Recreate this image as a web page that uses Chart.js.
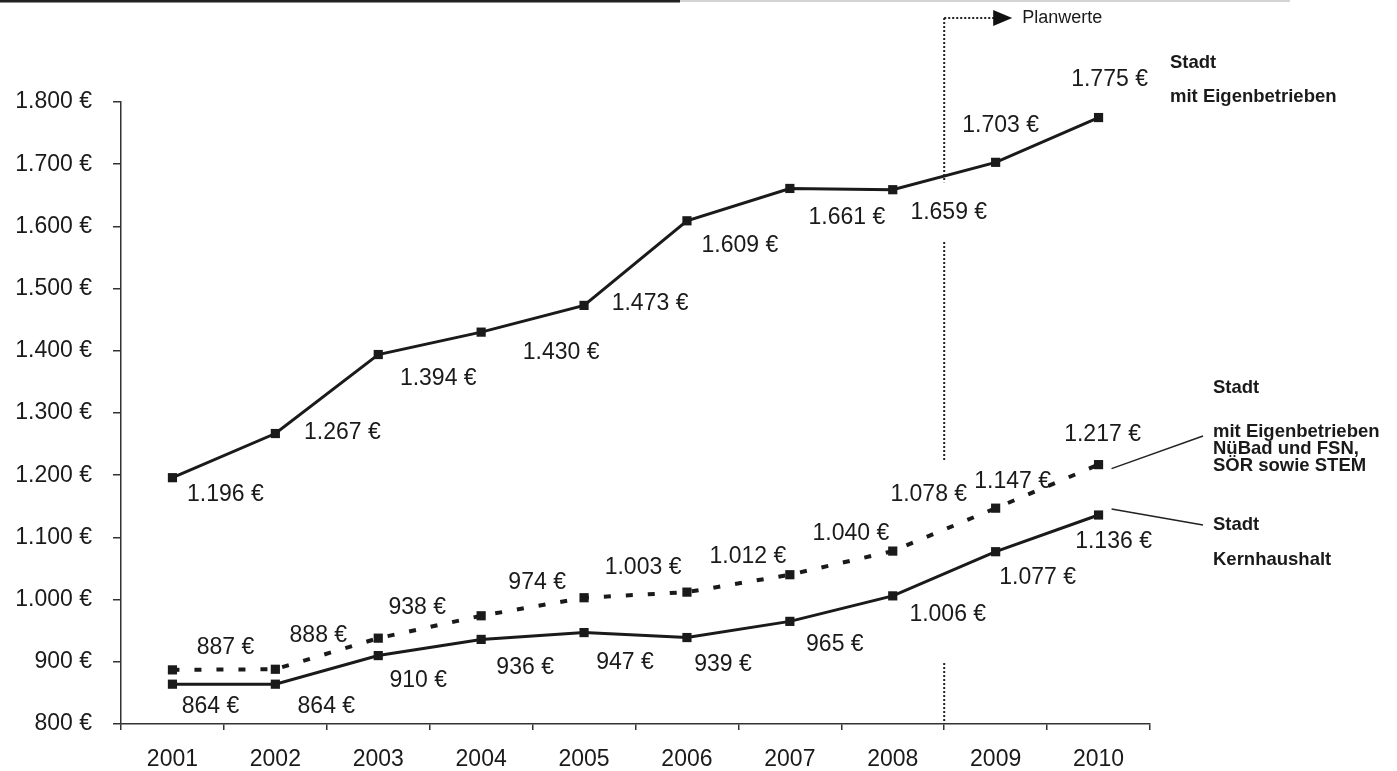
<!DOCTYPE html>
<html>
<head>
<meta charset="utf-8">
<script src="https://cdn.jsdelivr.net/npm/chart.js@4"></script>
<style>
  body { margin: 0; background: #fff; }
  #wrap { width: 1397px; height: 771px; position: relative; }
</style>
</head>
<body>
<div id="wrap"><canvas id="chart"></canvas></div>
<script>
// Daten (Euro je Einwohner)
const jahre = ['2001', '2002', '2003', '2004', '2005', '2006', '2007', '2008', '2009', '2010'];
const stadtMitEigenbetrieben = [1196, 1267, 1394, 1430, 1473, 1609, 1661, 1659, 1703, 1775];
const stadtMitNueBadFsnSoerStem = [887, 888, 938, 974, 1003, 1012, 1040, 1078, 1147, 1217];
const stadtKernhaushalt = [864, 864, 910, 936, 947, 939, 965, 1006, 1077, 1136];
const yMin = 800;
const yMax = 1800;
const yStep = 100;

// Versatz der Wertbeschriftungen (Pixel, relativ zum Punkt)
const labelOffsets = [
    [[53, 17], [67, -1], [60, 24], [80, 21], [66, -2], [53, 25], [57, 29], [56, 23], [5, -37], [11, -38]],
    [[53, -22], [43, -34], [39, -31], [56, -33], [59, -30], [61, -35], [61, -41], [36, -56], [17, -27], [4, -30]],
    [[38, 22], [51, 22], [40, 25], [44, 28], [41, 30], [36, 27], [45, 23], [55, 19], [42, 26], [15, 27]]
];

const schrift = '"Liberation Sans", Arial, sans-serif';
const ink = '#1a1a1a';

function euro(v) {
    return String(v).replace(/\B(?=(\d{3})+(?!\d))/g, '.') + ' €';
}

// Wertbeschriftungen an den Punkten
const wertePlugin = {
    id: 'werte',
    afterDatasetsDraw(chart) {
        const ctx = chart.ctx;
        ctx.save();
        ctx.font = '23px ' + schrift;
        ctx.fillStyle = ink;
        ctx.textAlign = 'center';
        ctx.textBaseline = 'middle';
        chart.data.datasets.forEach((ds, di) => {
            const meta = chart.getDatasetMeta(di);
            meta.data.forEach((pt, i) => {
                const off = labelOffsets[di][i];
                ctx.fillText(euro(ds.data[i]), pt.x + off[0], pt.y + off[1]);
            });
        });
        ctx.restore();
    }
};

// Planwerte-Markierung, Beschriftungen rechts, Scanrand
const notizPlugin = {
    id: 'notiz',
    afterDraw(chart) {
        const ctx = chart.ctx;
        const x = chart.scales.x;
        const y = chart.scales.y;
        const area = chart.chartArea;
        ctx.save();

        // Rand oben
        ctx.strokeStyle = '#222';
        ctx.lineWidth = 3;
        ctx.beginPath(); ctx.moveTo(0, 1); ctx.lineTo(680, 1); ctx.stroke();
        ctx.strokeStyle = '#aaa';
        ctx.lineWidth = 1;
        ctx.beginPath(); ctx.moveTo(680, 1); ctx.lineTo(1290, 1); ctx.stroke();

        // Trennlinie zwischen Ist- und Planwerten
        const px = (x.getPixelForValue(7) + x.getPixelForValue(8)) / 2;
        const topY = area.top - 84;
        ctx.strokeStyle = '#222';
        ctx.lineWidth = 2;
        ctx.setLineDash([2, 2]);
        const segs = [
            [topY, y.getPixelForValue(1671)],
            [y.getPixelForValue(1575), y.getPixelForValue(1222)],
            [y.getPixelForValue(898), area.bottom]
        ];
        segs.forEach(s => {
            ctx.beginPath(); ctx.moveTo(px, s[0]); ctx.lineTo(px, s[1]); ctx.stroke();
        });
        ctx.beginPath(); ctx.moveTo(px, topY); ctx.lineTo(px + 50, topY); ctx.stroke();
        ctx.setLineDash([]);
        ctx.fillStyle = '#111';
        ctx.beginPath();
        ctx.moveTo(px + 49, topY - 8);
        ctx.lineTo(px + 68, topY);
        ctx.lineTo(px + 49, topY + 8);
        ctx.closePath();
        ctx.fill();
        ctx.font = '18px ' + schrift;
        ctx.textAlign = 'left';
        ctx.textBaseline = 'middle';
        ctx.fillStyle = ink;
        ctx.fillText('Planwerte', px + 78, topY);

        // Reihenbeschriftungen
        ctx.font = 'bold 18.5px ' + schrift;
        const lx1 = area.right + 20;
        ctx.fillText('Stadt', lx1, area.top - 39);
        ctx.fillText('mit Eigenbetrieben', lx1, area.top - 5);

        const lx2 = area.right + 63;
        ctx.fillText('Stadt', lx2, 388);
        ctx.fillText('mit Eigenbetrieben', lx2, 432);
        ctx.fillText('NüBad und FSN,', lx2, 449);
        ctx.fillText('SÖR sowie STEM', lx2, 466);
        ctx.fillText('Stadt', lx2, 525);
        ctx.fillText('Kernhaushalt', lx2, 560);

        // Verbindungslinien
        const last = jahre.length - 1;
        const pDot = chart.getDatasetMeta(1).data[last];
        const pKern = chart.getDatasetMeta(2).data[last];
        ctx.strokeStyle = '#222';
        ctx.lineWidth = 1.5;
        ctx.beginPath();
        ctx.moveTo(pDot.x + 13, pDot.y + 4);
        ctx.lineTo(lx2 - 10, 436);
        ctx.stroke();
        ctx.beginPath();
        ctx.moveTo(pKern.x + 13, pKern.y - 6);
        ctx.lineTo(lx2 - 10, 525);
        ctx.stroke();

        ctx.restore();
    }
};

const reihe = (daten, gestrichelt) => ({
    data: daten,
    borderColor: ink,
    backgroundColor: ink,
    borderWidth: gestrichelt ? 4 : 3,
    borderDash: gestrichelt ? [7, 15] : [],
    pointStyle: 'rect',
    pointRadius: 6.5,
    pointBorderWidth: 0,
    pointBackgroundColor: ink,
    tension: 0,
    fill: false,
    clip: false
});

new Chart(document.getElementById('chart').getContext('2d'), {
    type: 'line',
    data: {
        labels: jahre,
        datasets: [
            reihe(stadtMitEigenbetrieben, false),
            reihe(stadtMitNueBadFsnSoerStem, true),
            reihe(stadtKernhaushalt, false)
        ]
    },
    options: {
        responsive: true,
        maintainAspectRatio: false,
        animation: false,
        layout: { padding: { left: 0, right: 247, top: 102, bottom: 0 } },
        plugins: {
            legend: { display: false },
            tooltip: { enabled: false }
        },
        scales: {
            x: {
                offset: true,
                grid: { offset: true, drawOnChartArea: false, tickLength: 6, color: '#333', lineWidth: 1.5 },
                border: { color: '#333', width: 1.5 },
                ticks: { color: ink, font: { family: schrift, size: 23 }, padding: 16, maxRotation: 0 },
                afterFit(scale) { scale.height = 47; }
            },
            y: {
                min: yMin,
                max: yMax,
                grid: { drawOnChartArea: false, tickLength: 8, color: '#333', lineWidth: 1.5 },
                border: { color: '#333', width: 1.5 },
                ticks: {
                    stepSize: yStep,
                    color: ink,
                    font: { family: schrift, size: 23 },
                    padding: 21,
                    callback: v => euro(v)
                },
                afterFit(scale) { scale.width = 121; }
            }
        }
    },
    plugins: [wertePlugin, notizPlugin]
});
</script>
</body>
</html>
